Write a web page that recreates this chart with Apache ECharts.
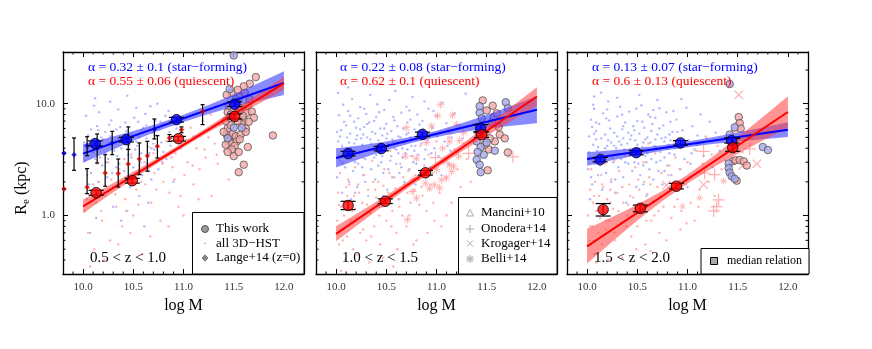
<!DOCTYPE html>
<html><head><meta charset="utf-8">
<script src="https://cdn.jsdelivr.net/npm/echarts@6/dist/echarts.min.js"></script>
<style>html,body{margin:0;padding:0;background:#fff}#c{width:872px;height:349px}</style>
</head><body><div id="c"></div>
<script>
// ---------------- DATA ----------------
const PANEL_LABELS = ['0.5 < z < 1.0', '1.0 < z < 1.5', '1.5 < z < 2.0'];
const SF_TEXT = ['α = 0.32 ± 0.1 (star−forming)', 'α = 0.22 ± 0.08 (star−forming)', 'α = 0.13 ± 0.07 (star−forming)'];
const Q_TEXT = ['α = 0.55 ± 0.06 (quiescent)', 'α = 0.62 ± 0.1 (quiescent)', 'α = 0.6 ± 0.13 (quiescent)'];
const X_TICK_LABELS = ['10.0', '10.5', '11.0', '11.5', '12.0'];
const Y_TICK_LABELS = ['1.0', '10.0'];
const X_MINOR = [9.9,10.1,10.2,10.3,10.4,10.6,10.7,10.8,10.9,11.1,11.2,11.3,11.4,11.6,11.7,11.8,11.9,12.1];
const Y_MINOR = [0.4,0.5,0.6,0.7,0.8,0.9,2,3,4,5,6,7,8,9,20];

// all 3D-HST dots
const P1_SF_DOTS = [[10.02,3.1],[10.05,5.2],[10.03,7.8],[10.08,2.4],[10.11,9.6],[10.06,1.9],[10.14,6.3],[10.09,4.1],[10.17,3.3],[10.12,11.2],[10.19,2.8],[10.04,1.4],[10.22,5.6],[10.16,8.4],[10.25,4.4],[10.21,1.6],[10.28,7.1],[10.24,2.2],[10.31,3.8],[10.27,10.4],[10.33,5.9],[10.3,1.2],[10.36,2.9],[10.35,8.9],[10.39,4.7],[10.38,0.9],[10.42,6.8],[10.41,2.5],[10.45,3.5],[10.44,11.8],[10.48,5.3],[10.47,1.8],[10.51,7.5],[10.5,2.7],[10.54,4.2],[10.53,9.2],[10.57,3.0],[10.56,1.5],[10.6,6.1],[10.59,2.3],[10.63,4.9],[10.62,8.1],[10.66,3.6],[10.65,1.3],[10.69,5.5],[10.68,2.1],[10.72,7.0],[10.71,3.9],[10.75,2.6],[10.74,10.0],[10.78,4.5],[10.8,6.6],[10.83,3.2],[10.85,8.6],[10.88,5.0],[10.9,2.0],[10.93,6.0],[10.97,4.0],[11.02,7.4],[11.1,5.1],[10.07,0.7],[10.13,0.95],[10.2,4.8],[10.26,6.5],[10.34,3.4],[10.4,5.0],[10.46,4.3],[10.52,3.9],[10.58,5.8],[10.64,2.9],[10.7,4.4],[10.76,5.9],[10.82,7.8],[10.01,4.5],[10.1,3.7],[10.18,5.0],[10.29,2.4],[10.37,6.2],[10.43,1.1],[10.55,6.9],[10.61,0.8],[10.67,9.5],[10.79,3.0],[10.87,4.2],[10.15,2.0],[10.23,3.0],[10.32,4.6],[10.03,2.6],[10.08,5.9],[10.12,3.2],[10.17,4.2],[10.22,3.6],[10.27,5.1],[10.33,2.7],[10.38,4.0],[10.43,5.7],[10.48,3.3],[10.53,4.6],[10.58,3.6],[10.63,6.4],[10.68,4.0],[10.73,5.2],[10.8,3.7],[10.86,5.6],[10.05,4.0],[10.15,5.8],[10.25,3.2],[10.35,4.9],[10.46,2.2],[10.56,5.0],[10.66,2.5],[10.77,6.9]];
const P1_Q_DOTS = [[10.02,1.1],[10.05,0.7],[10.08,1.6],[10.04,2.3],[10.11,0.5],[10.13,1.3],[10.16,2.0],[10.19,0.9],[10.22,1.5],[10.25,3.0],[10.27,0.6],[10.3,1.8],[10.33,1.2],[10.36,2.6],[10.39,0.8],[10.42,1.4],[10.45,2.2],[10.48,3.5],[10.5,1.0],[10.53,1.7],[10.56,2.8],[10.59,0.45],[10.62,1.9],[10.65,4.1],[10.68,1.3],[10.71,2.4],[10.74,3.1],[10.77,0.9],[10.8,2.0],[10.83,4.6],[10.86,1.6],[10.89,2.7],[10.92,3.6],[10.95,1.2],[10.98,5.2],[11.01,2.3],[11.04,3.0],[11.07,6.1],[11.1,1.9],[11.13,4.0],[11.16,2.6],[11.19,7.0],[11.22,3.3],[11.25,5.0],[11.28,1.5],[11.31,4.4],[11.34,2.9],[11.37,6.5],[11.4,3.8],[11.45,2.1],[11.5,5.6],[11.55,1.0],[11.58,7.2],[10.07,0.35],[10.14,2.9],[10.21,0.4],[10.28,2.1],[10.35,0.55],[10.41,3.2],[10.47,0.7],[10.55,1.25],[10.61,3.0],[10.67,0.65],[10.73,1.7],[10.79,2.9],[10.85,0.8],[10.91,2.1],[10.97,1.5],[11.03,4.8],[11.09,2.8],[11.15,1.4],[11.21,3.9],[11.27,8.0],[11.33,3.5],[11.43,4.5],[10.1,1.9],[10.18,1.1],[10.32,1.55],[10.44,1.1],[10.58,2.0],[10.7,3.6],[10.88,3.3],[11.0,1.0]];
const P2_SF_DOTS = [[10.01,2.2],[10.02,4.6],[10.03,7.9],[10.04,3.1],[10.05,5.8],[10.06,1.6],[10.07,9.8],[10.08,3.7],[10.09,2.7],[10.1,6.4],[10.02,12.5],[10.06,4.2],[10.09,1.3],[10.04,5.1],[10.11,3.4],[10.12,8.6],[10.13,2.0],[10.14,5.4],[10.15,4.0],[10.16,11.0],[10.17,2.5],[10.18,6.9],[10.19,3.0],[10.2,4.8],[10.21,1.8],[10.22,7.4],[10.23,3.6],[10.24,5.9],[10.12,14.0],[10.15,1.4],[10.18,4.4],[10.22,2.9],[10.24,9.3],[10.26,4.3],[10.27,2.3],[10.28,6.2],[10.29,3.2],[10.3,8.1],[10.31,5.0],[10.32,1.5],[10.33,3.9],[10.34,12.0],[10.35,2.6],[10.36,5.6],[10.37,4.1],[10.38,7.0],[10.39,2.1],[10.4,3.5],[10.41,9.9],[10.42,4.7],[10.43,1.2],[10.44,6.0],[10.45,3.0],[10.27,5.3],[10.33,6.8],[10.38,3.3],[10.42,2.8],[10.46,5.2],[10.47,2.4],[10.48,8.8],[10.49,3.8],[10.5,6.6],[10.51,1.7],[10.52,4.4],[10.53,10.8],[10.54,3.1],[10.55,5.7],[10.56,2.2],[10.57,7.6],[10.58,4.0],[10.59,13.0],[10.6,2.9],[10.61,6.3],[10.62,3.6],[10.63,1.4],[10.64,5.0],[10.65,8.3],[10.5,4.9],[10.55,3.4],[10.61,4.5],[10.66,3.3],[10.67,6.0],[10.68,2.0],[10.69,4.6],[10.7,9.4],[10.71,3.9],[10.72,5.5],[10.73,2.6],[10.74,7.2],[10.75,4.2],[10.76,11.5],[10.77,3.0],[10.78,5.9],[10.79,1.9],[10.8,4.8],[10.81,8.0],[10.82,3.5],[10.83,6.5],[10.84,2.4],[10.85,4.4],[10.7,5.3],[10.78,3.8],[10.86,7.0],[10.88,3.2],[10.9,5.4],[10.92,9.0],[10.94,2.7],[10.96,6.1],[10.98,4.0],[11.0,7.8],[11.02,3.4],[11.04,5.6],[11.06,10.2],[11.08,4.6],[11.1,6.7],[11.12,2.9],[11.15,5.0],[11.18,8.2],[11.2,3.7],[11.23,6.4],[11.26,4.9],[11.29,12.3],[10.91,4.7],[10.97,8.6],[11.05,2.3],[11.14,3.8],[10.03,3.5],[10.08,6.9],[10.13,4.5],[10.17,3.8],[10.21,5.2],[10.26,2.7],[10.31,6.6],[10.35,4.4],[10.39,5.4],[10.44,3.6],[10.48,6.0],[10.52,2.6],[10.57,4.6],[10.62,5.1],[10.66,4.0],[10.71,6.8],[10.75,3.4],[10.79,4.2],[10.84,5.3],[10.89,3.9],[10.06,2.9],[10.11,5.0],[10.16,3.2],[10.2,6.1],[10.25,4.9],[10.29,2.0],[10.34,4.8],[10.4,7.6],[10.46,3.4],[10.51,5.4],[10.56,4.8],[10.6,3.9],[10.65,2.7],[10.69,3.6],[10.74,5.0],[10.8,2.9],[10.87,5.9],[10.95,3.6],[11.01,5.1],[11.11,4.2],[10.01,5.6],[10.14,7.8],[10.28,9.0],[10.43,8.4],[10.58,7.1],[10.73,8.7],[10.88,10.5],[10.19,1.6],[10.47,1.5],[10.63,2.4]];
const P2_Q_DOTS = [[10.01,0.9],[10.02,1.6],[10.03,0.55],[10.04,2.4],[10.05,1.2],[10.06,0.75],[10.07,3.0],[10.08,1.0],[10.09,0.4],[10.1,1.8],[10.11,0.65],[10.12,2.1],[10.13,1.35],[10.14,0.85],[10.15,3.6],[10.16,1.1],[10.17,0.5],[10.18,1.5],[10.19,2.7],[10.2,0.95],[10.22,1.9],[10.24,0.7],[10.26,1.3],[10.28,2.3],[10.3,0.6],[10.32,1.7],[10.34,1.05],[10.36,3.1],[10.38,0.8],[10.4,1.45],[10.42,2.0],[10.44,0.55],[10.46,1.2],[10.48,2.6],[10.5,0.9],[10.52,1.6],[10.54,3.8],[10.56,1.1],[10.58,2.2],[10.6,0.7],[10.62,1.4],[10.64,2.9],[10.66,1.0],[10.68,1.9],[10.7,0.8],[10.72,2.5],[10.74,1.3],[10.76,3.4],[10.78,1.7],[10.8,0.6],[10.82,2.1],[10.84,4.2],[10.86,1.5],[10.88,2.8],[10.9,1.1],[10.92,3.5],[10.94,1.9],[10.96,2.4],[10.98,0.9],[11.0,4.6],[11.03,1.6],[11.06,3.0],[11.09,2.2],[11.12,5.0],[11.15,1.3],[11.18,3.9],[11.21,2.6],[11.24,1.8],[11.27,4.4],[11.3,3.2],[11.34,2.0],[11.38,5.5],[11.42,3.6],[11.47,2.5],[10.21,0.45],[10.33,0.38],[10.47,0.42],[10.61,0.5],[10.77,0.55],[10.91,0.7],[11.05,0.8],[10.27,3.3],[10.45,4.0],[10.67,4.5],[10.05,0.32],[10.57,0.35],[10.83,1.25],[10.97,1.3],[11.1,1.0],[10.71,1.6],[10.53,2.4],[10.37,2.0],[10.13,1.9],[10.03,1.25],[10.07,0.6],[10.11,1.5],[10.15,0.9],[10.19,1.15],[10.23,1.6],[10.27,0.75],[10.31,1.25],[10.35,0.65],[10.39,1.7],[10.43,1.0],[10.47,1.85],[10.51,1.3],[10.55,0.8],[10.59,1.75],[10.63,1.2],[10.67,2.2],[10.73,1.0],[10.79,2.3],[10.85,1.8]];
const P3_SF_DOTS = [[10.01,2.6],[10.02,5.1],[10.03,3.3],[10.04,7.2],[10.05,1.9],[10.06,4.3],[10.07,9.0],[10.08,2.9],[10.09,5.7],[10.1,3.8],[10.03,1.4],[10.07,11.6],[10.09,4.8],[10.05,6.2],[10.11,2.3],[10.12,6.6],[10.13,3.6],[10.14,4.9],[10.15,1.7],[10.16,8.2],[10.17,3.1],[10.18,5.3],[10.19,2.4],[10.2,4.2],[10.21,10.5],[10.22,3.4],[10.23,6.0],[10.24,2.0],[10.14,12.6],[10.19,7.4],[10.24,4.5],[10.26,3.0],[10.27,5.5],[10.28,1.6],[10.29,4.0],[10.3,7.7],[10.31,2.7],[10.32,4.6],[10.33,9.4],[10.34,3.2],[10.35,5.9],[10.36,2.2],[10.37,3.9],[10.38,6.8],[10.39,1.3],[10.4,4.4],[10.41,2.9],[10.42,8.5],[10.43,3.5],[10.44,5.2],[10.45,2.5],[10.3,11.3],[10.36,4.9],[10.42,3.7],[10.46,6.3],[10.47,3.0],[10.48,4.7],[10.49,1.8],[10.5,7.0],[10.51,3.6],[10.52,5.4],[10.53,2.3],[10.54,9.7],[10.55,4.1],[10.56,2.8],[10.57,6.1],[10.58,3.4],[10.59,1.5],[10.6,5.0],[10.61,8.0],[10.62,2.6],[10.63,4.5],[10.64,3.2],[10.65,6.6],[10.52,12.0],[10.58,4.8],[10.66,2.1],[10.67,4.2],[10.68,7.5],[10.69,3.0],[10.7,5.3],[10.71,2.5],[10.72,9.1],[10.73,3.7],[10.74,4.9],[10.75,1.9],[10.76,6.4],[10.77,3.3],[10.78,5.0],[10.79,8.4],[10.8,2.8],[10.81,4.3],[10.82,3.6],[10.83,6.9],[10.84,2.3],[10.85,5.6],[10.7,10.8],[10.8,4.0],[10.87,3.5],[10.89,7.2],[10.91,4.4],[10.93,2.6],[10.95,5.8],[10.97,3.2],[10.99,9.2],[11.01,4.7],[11.03,2.9],[11.05,6.3],[11.07,3.9],[11.1,5.2],[11.13,8.0],[11.16,3.4],[11.19,4.9],[11.22,6.9],[11.25,2.7],[11.28,5.5],[11.32,3.8],[10.94,11.0],[11.0,1.8],[11.09,4.3],[10.02,3.7],[10.07,5.4],[10.11,4.1],[10.16,3.5],[10.21,4.7],[10.25,3.3],[10.3,5.1],[10.34,4.3],[10.38,3.0],[10.43,4.8],[10.47,5.8],[10.51,2.9],[10.56,4.5],[10.6,3.6],[10.64,5.7],[10.69,4.1],[10.73,3.1],[10.77,4.6],[10.82,5.3],[10.88,4.0],[10.04,2.2],[10.09,6.8],[10.13,2.8],[10.18,4.0],[10.22,7.1],[10.27,4.2],[10.31,3.5],[10.36,6.3],[10.41,5.5],[10.46,3.9],[10.5,4.3],[10.55,6.9],[10.59,3.0],[10.63,7.6],[10.68,4.8],[10.72,6.0],[10.77,2.5],[10.83,4.7],[10.9,5.6],[10.98,4.2],[11.04,3.6],[11.12,4.4],[10.06,9.8],[10.2,8.9],[10.35,8.0],[10.49,9.0],[10.66,8.8],[10.86,8.6],[10.28,2.1],[10.56,1.9]];
const P3_Q_DOTS = [[10.01,1.0],[10.02,0.6],[10.03,1.7],[10.04,2.6],[10.05,0.8],[10.06,1.3],[10.07,0.45],[10.08,2.0],[10.09,1.1],[10.1,3.2],[10.11,0.7],[10.12,1.5],[10.13,0.95],[10.14,2.3],[10.15,0.55],[10.16,1.8],[10.17,1.2],[10.18,2.9],[10.19,0.75],[10.2,1.4],[10.22,0.9],[10.24,2.1],[10.26,1.15],[10.28,0.6],[10.3,1.6],[10.32,2.5],[10.34,0.85],[10.36,1.3],[10.38,3.4],[10.4,1.0],[10.42,1.9],[10.44,0.65],[10.46,1.45],[10.48,2.7],[10.5,0.8],[10.52,1.7],[10.54,1.05],[10.56,3.0],[10.58,0.55],[10.6,1.55],[10.62,2.2],[10.64,0.9],[10.66,1.35],[10.68,3.6],[10.7,1.8],[10.72,0.7],[10.74,2.4],[10.76,1.2],[10.78,4.0],[10.8,1.6],[10.82,2.8],[10.84,0.95],[10.86,2.0],[10.88,3.3],[10.9,1.4],[10.92,2.6],[10.94,1.1],[10.96,4.5],[10.98,1.9],[11.0,3.0],[11.03,1.3],[11.06,2.3],[11.09,3.8],[11.12,1.7],[11.15,2.9],[11.18,5.1],[11.21,2.0],[11.24,3.5],[11.27,1.5],[11.3,4.2],[11.34,2.6],[11.38,3.1],[11.43,4.9],[11.48,2.2],[11.55,3.7],[10.21,0.4],[10.35,0.42],[10.49,0.5],[10.63,0.48],[10.79,0.6],[10.93,0.75],[11.07,0.9],[10.27,3.1],[10.43,3.9],[10.61,4.4],[10.09,0.38],[10.71,1.1],[10.85,1.75],[10.99,0.85],[11.11,1.2],[10.57,2.0],[10.41,1.25],[10.23,1.7],[10.03,0.8],[10.07,1.5],[10.11,1.1],[10.15,1.9],[10.19,0.9],[10.23,1.3],[10.27,0.7],[10.31,1.1],[10.35,1.8],[10.39,0.8],[10.43,1.5],[10.47,1.1],[10.51,2.1],[10.55,1.3],[10.59,0.9],[10.63,1.9],[10.67,1.0],[10.73,1.5],[10.81,2.3],[10.87,1.2]];

// confidence bands: [logM, lower Re, upper Re]
const P1_SF_BAND = [[10,2.97,4.33],[10.25,3.72,4.96],[10.5,4.66,5.70],[10.75,5.72,6.65],[11,6.87,7.96],[11.25,8.09,9.73],[11.5,9.38,12.08],[11.75,10.59,15.31],[12,11.94,19.54]];
const P1_Q_BAND = [[10,1.05,1.39],[10.25,1.50,1.84],[10.5,2.12,2.46],[10.75,2.96,3.31],[11,4.08,4.52],[11.25,5.55,6.26],[11.5,7.48,8.75],[11.75,10.01,12.31],[12,13.34,17.42]];
const P2_SF_BAND = [[10,2.69,3.99],[10.25,3.23,4.26],[10.5,3.83,4.60],[10.75,4.46,5.07],[11,5.05,5.74],[11.25,5.55,6.67],[11.5,6.00,7.91],[11.75,6.34,9.59],[12,6.70,11.64]];
const P2_Q_BAND = [[10,0.588,0.80],[10.25,0.87,1.095],[10.5,1.28,1.51],[10.75,1.86,2.11],[11,2.66,3.00],[11.25,3.73,4.33],[11.5,5.16,6.35],[11.75,7.05,9.42],[12,9.59,14.06]];
const P3_SF_BAND = [[10,2.79,3.68],[10.25,3.12,3.84],[10.5,3.46,4.01],[10.75,3.79,4.26],[11,4.09,4.59],[11.25,4.37,5.01],[11.5,4.60,5.53],[11.75,4.82,6.12],[12,5.05,6.81]];
const P3_Q_BAND = [[10,0.372,0.762],[10.25,0.583,0.968],[10.5,0.904,1.247],[10.75,1.352,1.663],[11,1.93,2.32],[11.25,2.67,3.36],[11.5,3.56,5.02],[11.75,4.69,7.60],[12,6.11,11.64]];

// best-fit lines
const P1_SF_LINE = [[10,3.58],[12,15.3]];
const P1_Q_LINE = [[10,1.21],[12,15.2]];
const P2_SF_LINE = [[10,3.27],[12,8.84]];
const P2_Q_LINE = [[10,0.686],[12,11.6]];
const P3_SF_LINE = [[10,3.2],[12,5.86]];
const P3_Q_LINE = [[10,0.53],[12,8.43]];

// median relation: [logM, Re, lower, upper]
const P1_SF_MED = [[10.12,4.4,4.2,4.65],[10.43,4.77,4.55,5.0],[10.93,7.2,6.85,7.55],[11.51,9.9,9.45,10.4]];
const P1_Q_MED = [[10.13,1.6,1.52,1.68],[10.49,2.05,1.95,2.15],[10.95,4.87,4.64,5.1],[11.51,7.7,7.3,8.1]];
const P2_SF_MED = [[10.12,3.58,3.42,3.75],[10.45,3.97,3.79,4.16],[10.86,5.32,5.08,5.57],[11.44,6.03,5.6,6.5]];
const P2_Q_MED = [[10.12,1.23,1.13,1.34],[10.49,1.34,1.28,1.41],[10.89,2.41,2.3,2.53],[11.45,5.28,5.0,5.6]];
const P3_SF_MED = [[10.13,3.16,3.02,3.31],[10.49,3.65,3.49,3.82],[10.93,4.46,4.26,4.67],[11.44,4.67,4.45,4.95]];
const P3_Q_MED = [[10.16,1.13,0.99,1.28],[10.53,1.16,1.08,1.24],[10.89,1.83,1.73,1.94],[11.45,4.05,3.75,4.9]];

// This work (individual galaxies)
const P1_TW_Q = [[11.72,17.3],[11.66,15.1],[11.60,14.3],[11.48,12.5],[11.43,12.0],[11.56,11.6],[11.61,12.5],[11.54,13.3],[11.66,10.9],[11.63,8.3],[11.68,8.5],[11.60,7.2],[11.89,5.2],[11.64,4.1],[11.50,3.4],[11.60,2.85],[11.55,2.44],[11.43,5.3],[11.46,5.0],[11.49,5.4],[11.52,5.1],[11.45,4.6],[11.48,4.4],[11.53,4.6],[11.57,5.3],[11.42,4.3],[11.51,4.2],[11.56,4.8],[11.44,6.0],[11.47,6.4],[11.58,6.6],[11.62,6.0],[11.42,7.0],[11.46,7.5],[11.54,7.0],[11.59,7.8],[11.44,8.4],[11.50,8.8],[11.56,9.2],[11.45,9.6],[11.53,10.5],[11.64,9.6],[11.70,7.5],[11.65,6.9],[11.48,3.9],[11.55,3.7],[11.44,3.7],[11.62,5.6],[11.40,5.6]];
const P1_TW_SF = [[11.50,27.0],[11.46,13.5],[11.58,6.1],[11.50,6.1],[11.52,11.0],[11.47,8.0],[11.56,8.7],[11.44,4.9]];
const P2_TW_Q = [[11.46,10.7],[11.56,9.6],[11.50,8.7],[11.57,7.6],[11.63,5.3],[11.58,4.6],[11.68,4.9],[11.71,3.67],[11.52,3.9],[11.51,2.54],[11.55,6.8],[11.48,4.3],[11.60,8.2],[11.62,6.2],[11.53,4.9]];
const P2_TW_SF = [[11.69,10.3],[11.71,9.1],[11.43,9.5],[11.43,8.3],[11.45,7.4],[11.40,4.6],[11.44,4.1],[11.58,3.8],[11.40,3.16],[11.43,2.85],[11.44,2.44],[11.47,3.5],[11.42,5.5],[11.50,4.5],[11.41,3.7]];
const P3_TW_Q = [[11.51,7.6],[11.52,6.7],[11.49,2.05],[11.45,3.05],[11.48,3.12],[11.52,3.14],[11.56,3.05],[11.59,2.8],[11.53,6.0]];
const P3_TW_SF = [[11.42,15.0],[11.47,6.15],[11.42,5.3],[11.75,4.1],[11.80,3.85],[11.41,2.92],[11.41,2.65],[11.42,2.42],[11.44,2.24],[11.47,2.13]];

// Lange+14 (z=0): [logM, Re, lower, upper]
const P1_LANGE_SF = [[9.81,3.6,3.6,3.6],[9.91,3.5,2.54,4.94],[10.04,4.2,3.43,5.07],[10.14,4.0,2.95,5.36],[10.29,4.46,3.5,5.66],[10.45,4.9,3.9,6.2],[10.71,5.9,4.84,7.3]];
const P1_LANGE_Q = [[9.81,1.73,1.73,1.73],[10.04,1.79,1.57,2.63],[10.22,2.4,1.83,3.5],[10.35,2.37,1.8,3.2],[10.45,2.89,2.1,3.9],[10.56,3.2,2.32,4.46],[10.64,3.43,2.49,4.61],[10.74,4.16,3.27,5.18],[10.86,4.94,4.6,5.3],[10.98,5.86,5.5,6.2],[11.19,8.5,6.5,9.8]];

// literature compilations
const P2_BELLI = [[11.04,9.8],[11.16,7.9],[11.01,7.8],[10.70,6.1],[10.95,6.3],[11.13,5.6],[11.27,5.5],[11.23,4.7],[11.13,4.6],[11.06,4.0],[10.69,3.4],[11.22,3.4],[10.80,3.25],[11.13,2.83],[11.17,2.75],[11.15,2.47],[11.00,2.57],[11.10,2.17],[11.05,2.08],[10.77,2.1],[10.98,1.88],[10.89,1.95],[11.03,1.77],[10.93,1.75],[10.76,1.64],[10.80,1.43],[10.71,0.92],[10.85,2.3],[10.9,4.5],[11.2,6.5],[11.08,3.1]];
const P2_ONODERA = [[10.99,3.3],[11.32,3.6],[11.76,3.35]];
const P3_BELLI = [[11.12,1.44],[10.95,1.21],[11.36,2.03]];
const P3_ONODERA = [[11.16,3.75],[11.17,2.4],[11.27,2.32],[11.31,1.38],[11.26,1.1],[11.29,1.2],[11.62,3.94]];
const P3_KROGAGER = [[11.51,12.0],[11.69,2.9],[11.55,2.8],[11.16,1.89],[10.79,1.87]];
const P3_MANCINI = [[11.49,6.28]];

// ---------------- CHART ----------------
const FONT = "'Liberation Serif','DejaVu Serif',serif";
const BLUE = '#0000ff', RED = '#ff0000';
const PLUS_PATH = 'path://M-1,-10L1,-10L1,-1L10,-1L10,1L1,1L1,10L-1,10L-1,1L-10,1L-10,-1L-1,-1Z';
const AST_PATH = 'path://M-1,-10L1,-10L1,10L-1,10Z M-10,-1L10,-1L10,1L-10,1Z M-7.7,-6.3L-6.3,-7.7L7.7,6.3L6.3,7.7Z M6.3,-7.7L7.7,-6.3L-6.3,7.7L-7.7,6.3Z';
const GRID_LEFT = [63, 316, 567];

const fmtX = v => { const s = v.toFixed(1); return X_TICK_LABELS.indexOf(s) >= 0 && Math.abs(v - parseFloat(s)) < 1e-6 ? s : ''; };
const fmtY = v => (Math.abs(v-1) < 1e-6 ? Y_TICK_LABELS[0] : (Math.abs(v-10) < 1e-5 ? Y_TICK_LABELS[1] : ''));

const grids = [], xAxes = [], yAxes = [], series = [], graphic = [];
GRID_LEFT.forEach((l, p) => {
  grids.push({left: l, top: 52, width: 241, height: 222});
  const line = {show: true, onZero: false, lineStyle: {color: '#000', width: 1.3}};
  const tick = {show: true, inside: true, length: 5, lineStyle: {color: '#000', width: 1}};
  const xb = {gridIndex: p, type: 'value', min: 9.8, max: 12.2, splitNumber: 5, splitLine: {show: false}, axisLine: line, axisTick: tick};
  xAxes.push(Object.assign({}, xb, {position: 'bottom', name: 'log M', nameLocation: 'middle', nameGap: 19,
    nameTextStyle: {fontFamily: FONT, fontSize: 16, color: '#000'},
    axisLabel: {show: true, margin: 8, fontFamily: FONT, fontSize: 11, color: '#333', formatter: fmtX}}));
  xAxes.push(Object.assign({}, xb, {position: 'top', axisLabel: {show: false}}));
  const yb = {gridIndex: p, type: 'log', logBase: 10, min: 0.3, max: 29, splitLine: {show: false}, axisLine: line, axisTick: tick};
  yAxes.push(Object.assign({}, yb, {position: 'left', axisLabel: {show: p === 0, margin: 8, fontFamily: FONT, fontSize: 11, color: '#333', formatter: fmtY}}));
  yAxes.push(Object.assign({}, yb, {position: 'right', axisLabel: {show: false}}));
});

function ax(p) { return {xAxisIndex: 2*p, yAxisIndex: 2*p}; }
function dots(p, data, color) {
  return Object.assign({type: 'scatter', data, symbol: 'circle', symbolSize: 2.4, silent: true, z: 2,
    itemStyle: {color, opacity: 0.9}}, ax(p));
}
function band(p, b, color) {
  return Object.assign({type: 'custom', data: [[b[0][0], b[0][1]]], silent: true, z: 4,
    renderItem: (params, api) => {
      const pts = [];
      b.forEach(r => pts.push(api.coord([r[0], r[2]])));
      for (let i = b.length - 1; i >= 0; i--) pts.push(api.coord([b[i][0], b[i][1]]));
      return {type: 'polygon', shape: {points: pts}, style: {fill: color}};
    }}, ax(p));
}
function fit(p, data, color) {
  return Object.assign({type: 'line', data, symbol: 'none', silent: true, z: 5, lineStyle: {color, width: 2}}, ax(p));
}
function errbars(p, data, cap, lw, z) {
  return Object.assign({type: 'custom', data, silent: true, z, encode: {x: 0, y: 1},
    renderItem: (params, api) => {
      const x = api.value(0);
      const a = api.coord([x, api.value(2)]), b = api.coord([x, api.value(3)]);
      const st = {stroke: '#000', lineWidth: lw};
      return {type: 'group', children: [
        {type: 'line', shape: {x1: a[0], y1: a[1], x2: b[0], y2: b[1]}, style: st},
        {type: 'line', shape: {x1: a[0]-cap, y1: a[1], x2: a[0]+cap, y2: a[1]}, style: st},
        {type: 'line', shape: {x1: b[0]-cap, y1: b[1], x2: b[0]+cap, y2: b[1]}, style: st}]};
    }}, ax(p));
}
function marks(p, data, symbol, size, color, z, extra) {
  return Object.assign({type: 'scatter', data, symbol, symbolSize: size, silent: true, z,
    itemStyle: Object.assign({color}, extra || {})}, ax(p));
}
function minorTicks(p) {
  return Object.assign({type: 'custom', data: [[10, 1]], silent: true, z: 20, clip: false,
    renderItem: (params, api) => {
      const cs = params.coordSys, ch = [], st = {stroke: '#000', lineWidth: 1};
      X_MINOR.forEach(v => { const x = api.coord([v, 1])[0];
        ch.push({type: 'line', shape: {x1: x, y1: cs.y + cs.height, x2: x, y2: cs.y + cs.height - 2.5}, style: st});
        ch.push({type: 'line', shape: {x1: x, y1: cs.y, x2: x, y2: cs.y + 2.5}, style: st}); });
      Y_MINOR.forEach(v => { const y = api.coord([10, v])[1];
        ch.push({type: 'line', shape: {x1: cs.x, y1: y, x2: cs.x + 2.5, y2: y}, style: st});
        ch.push({type: 'line', shape: {x1: cs.x + cs.width, y1: y, x2: cs.x + cs.width - 2.5, y2: y}, style: st}); });
      return {type: 'group', children: ch};
    }}, ax(p));
}

const DOT_B = '#a9b0ff', DOT_R = '#ffaaaa', LIT = '#ff9c9c';
const TW_PINK = '#f4a8a6', TW_LAV = '#a6a8ee';
const twStyle = {borderColor: '#555', borderWidth: 1};
const PANELS = [
  {sfDots: P1_SF_DOTS, qDots: P1_Q_DOTS, sfBand: P1_SF_BAND, qBand: P1_Q_BAND, sfLine: P1_SF_LINE, qLine: P1_Q_LINE, sfMed: P1_SF_MED, qMed: P1_Q_MED, twQ: P1_TW_Q, twSF: P1_TW_SF},
  {sfDots: P2_SF_DOTS, qDots: P2_Q_DOTS, sfBand: P2_SF_BAND, qBand: P2_Q_BAND, sfLine: P2_SF_LINE, qLine: P2_Q_LINE, sfMed: P2_SF_MED, qMed: P2_Q_MED, twQ: P2_TW_Q, twSF: P2_TW_SF},
  {sfDots: P3_SF_DOTS, qDots: P3_Q_DOTS, sfBand: P3_SF_BAND, qBand: P3_Q_BAND, sfLine: P3_SF_LINE, qLine: P3_Q_LINE, sfMed: P3_SF_MED, qMed: P3_Q_MED, twQ: P3_TW_Q, twSF: P3_TW_SF}
];

PANELS.forEach((d, p) => {
  series.push(dots(p, d.sfDots, DOT_B));
  series.push(dots(p, d.qDots, DOT_R));
  if (p === 1) {
    series.push(marks(p, P2_BELLI, AST_PATH, 8, LIT, 3));
    series.push(marks(p, P2_ONODERA, PLUS_PATH, 12, LIT, 3));
  }
  if (p === 2) {
    series.push(marks(p, P3_BELLI, AST_PATH, 7, LIT, 3));
    series.push(marks(p, P3_ONODERA, PLUS_PATH, 12, LIT, 3));
    series.push(Object.assign(marks(p, P3_KROGAGER, PLUS_PATH, 12, LIT, 3), {symbolRotate: 45}));
    series.push(marks(p, P3_MANCINI, 'triangle', 11, 'rgba(0,0,0,0)', 3, {borderColor: LIT, borderWidth: 1.5}));
  }
  series.push(marks(p, d.twQ, 'circle', 7.5, TW_PINK, 3, twStyle));
  series.push(marks(p, d.twSF, 'circle', 7.5, TW_LAV, 3, twStyle));
  series.push(band(p, d.sfBand, 'rgba(60,60,255,0.6)'));
  series.push(band(p, d.qBand, 'rgba(255,60,60,0.55)'));
  series.push(fit(p, d.sfLine, BLUE));
  series.push(fit(p, d.qLine, RED));
  if (p === 0) {
    series.push(errbars(p, P1_LANGE_SF, 2, 1.2, 6));
    series.push(errbars(p, P1_LANGE_Q, 2, 1.2, 6));
    series.push(marks(p, P1_LANGE_SF, 'diamond', 5.5, '#0000dd', 7));
    series.push(marks(p, P1_LANGE_Q, 'diamond', 5.5, '#dd0000', 7));
  }
  series.push(errbars(p, d.sfMed, 7.5, 1.2, 8));
  series.push(errbars(p, d.qMed, 7.5, 1.2, 8));
  series.push(marks(p, d.sfMed, 'circle', 10.5, BLUE, 9, {borderColor: '#000', borderWidth: 1}));
  series.push(marks(p, d.qMed, 'circle', 10.5, RED, 9, {borderColor: '#000', borderWidth: 1}));
  series.push(minorTicks(p));
});

// ---------------- ANNOTATIONS ----------------
function txt(x, y, text, size, color) {
  return {type: 'text', x, y, z: 100, silent: true, style: {text, fill: color, fontSize: size, fontFamily: FONT,
    align: 'left', verticalAlign: 'middle', textAlign: 'left', textVerticalAlign: 'middle'}};
}
const TEXT_X = [88, 340, 592];
TEXT_X.forEach((x, p) => {
  graphic.push(txt(x, 67, SF_TEXT[p], 13.5, BLUE));
  graphic.push(txt(x, 81, Q_TEXT[p], 13.5, RED));
  graphic.push(txt(x + 2, 258, PANEL_LABELS[p], 15, '#000'));
});
const box = (x, y, w, h) => ({type: 'rect', z: 99, silent: true, shape: {x, y, width: w, height: h}, style: {fill: '#fff', stroke: '#000', lineWidth: 1}});
const seg = (x1, y1, x2, y2, c, w) => ({type: 'line', z: 100, silent: true, shape: {x1, y1, x2, y2}, style: {stroke: c, lineWidth: w || 1}});
// panel 1 legend
graphic.push(box(192.5, 212.5, 111.5, 61.5));
graphic.push({type: 'circle', z: 100, silent: true, shape: {cx: 205, cy: 229, r: 3.5}, style: {fill: '#999', stroke: '#555', lineWidth: 1}});
graphic.push({type: 'circle', z: 100, silent: true, shape: {cx: 205, cy: 243.5, r: 0.9}, style: {fill: '#e0a0a0'}});
graphic.push({type: 'polygon', z: 100, silent: true, shape: {points: [[205, 254.8], [208, 258], [205, 261.2], [202, 258]]}, style: {fill: '#888', stroke: '#666', lineWidth: 0.8}});
graphic.push(txt(216, 229, 'This work', 13, '#000'));
graphic.push(txt(216, 243.5, 'all 3D−HST', 13, '#000'));
graphic.push(txt(216, 258, 'Lange+14 (z=0)', 13, '#000'));
// panel 2 legend
graphic.push(box(458.5, 197.5, 98.5, 76.5));
graphic.push({type: 'polygon', z: 100, silent: true, shape: {points: [[470, 209.5], [473.5, 216], [466.5, 216]]}, style: {fill: 'none', stroke: '#aaa', lineWidth: 1}});
graphic.push(seg(466, 229, 474, 229, '#aaa'), seg(470, 225, 470, 233, '#aaa'));
graphic.push(seg(467, 240.5, 473, 246.5, '#aaa'), seg(473, 240.5, 467, 246.5, '#aaa'));
graphic.push(seg(466, 259, 474, 259, '#bbb', 1.3), seg(470, 255, 470, 263, '#bbb', 1.3), seg(467.2, 256.2, 472.8, 261.8, '#bbb', 1.3), seg(472.8, 256.2, 467.2, 261.8, '#bbb', 1.3));
graphic.push(txt(481, 213, 'Mancini+10', 13, '#000'));
graphic.push(txt(481, 229, 'Onodera+14', 13, '#000'));
graphic.push(txt(481, 243.5, 'Krogager+14', 13, '#000'));
graphic.push(txt(481, 259, 'Belli+14', 13, '#000'));
// panel 3 legend
graphic.push(box(701, 248.5, 108, 25.5));
graphic.push({type: 'rect', z: 100, silent: true, shape: {x: 710.5, y: 257.5, width: 7, height: 7}, style: {fill: '#aaa', stroke: '#000', lineWidth: 1}});
graphic.push(txt(727, 261, 'median relation', 12, '#000'));
// y axis title
graphic.push({type: 'text', x: 22, y: 188, rotation: Math.PI / 2, z: 100, silent: true,
  style: {text: '{a|R}{b|e}{a| (kpc)}', fontFamily: FONT, fill: '#000', align: 'center', verticalAlign: 'middle', textAlign: 'center', textVerticalAlign: 'middle',
    rich: {a: {fontSize: 16, fontFamily: FONT, fill: '#000'}, b: {fontSize: 11, fontFamily: FONT, fill: '#000', padding: [8, 0, 0, 0]}}}});

const chart = echarts.init(document.getElementById('c'), null, {renderer: 'canvas'});
chart.setOption({animation: false, backgroundColor: '#fff', grid: grids, xAxis: xAxes, yAxis: yAxes, series, graphic});
</script></body></html>
